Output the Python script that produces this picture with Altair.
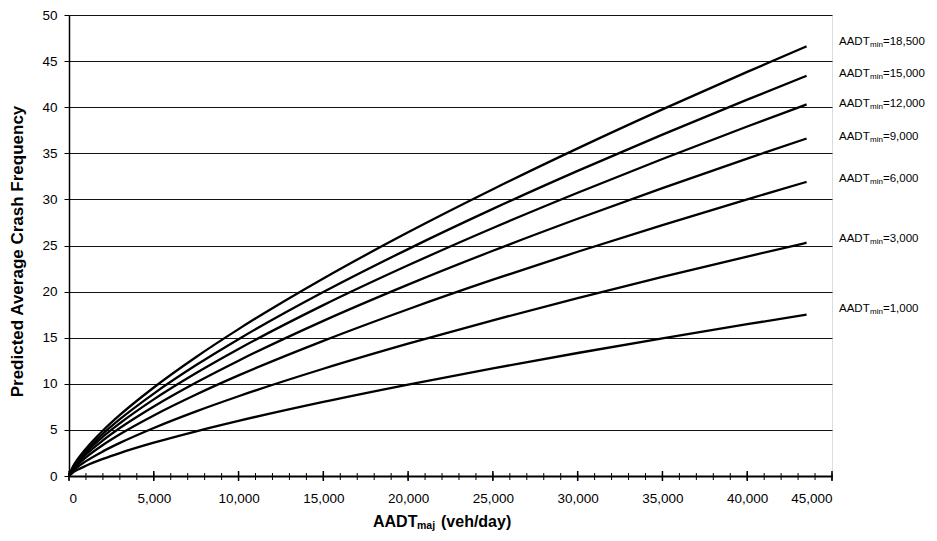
import altair as alt
import pandas as pd

# ---- data ----
aadt_maj = [0, 250, 500, 1000, 2000, 3000, 5000, 7500, 10000, 15000,
            20000, 25000, 30000, 35000, 40000, 43500]

crash_18500 = [0, 1.08, 1.79, 2.97, 4.92, 6.62, 9.60, 12.91, 15.93, 21.42,
               26.43, 31.10, 35.53, 39.76, 43.83, 46.6]
crash_15000 = [0, 1.00, 1.67, 2.76, 4.58, 6.16, 8.94, 12.03, 14.84, 19.95,
               24.61, 28.97, 33.09, 37.03, 40.82, 43.4]
crash_12000 = [0, 0.93, 1.55, 2.57, 4.26, 5.72, 8.31, 11.17, 13.78, 18.53,
               22.85, 26.90, 30.72, 34.38, 37.91, 40.3]
crash_9000 = [0, 0.85, 1.41, 2.33, 3.86, 5.20, 7.54, 10.14, 12.51, 16.83,
              20.76, 24.43, 27.90, 31.23, 34.43, 36.6]
crash_6000 = [0, 0.74, 1.22, 2.03, 3.37, 4.53, 6.57, 8.84, 10.91, 14.66,
              18.09, 21.29, 24.32, 27.22, 30.01, 31.9]
crash_3000 = [0, 0.58, 0.97, 1.61, 2.67, 3.59, 5.21, 7.01, 8.65, 11.63,
              14.35, 16.89, 19.29, 21.59, 23.80, 25.3]
crash_1000 = [0, 0.40, 0.67, 1.11, 1.85, 2.49, 3.61, 4.85, 5.98, 8.04,
              9.92, 11.68, 13.34, 14.93, 16.46, 17.5]

series_names = ["18,500", "15,000", "12,000", "9,000", "6,000", "3,000", "1,000"]
series_values = [crash_18500, crash_15000, crash_12000, crash_9000,
                 crash_6000, crash_3000, crash_1000]
label_y = [47.1, 43.6, 40.4, 36.8, 32.2, 25.7, 18.1]

x_ticks = list(range(0, 45001, 1000))
x_major = list(range(0, 45001, 5000))
y_ticks = list(range(0, 51, 5))

# ---- tables ----
rows = []
for name, vals in zip(series_names, series_values):
    for x, v in zip(aadt_maj, vals):
        rows.append({"maj": x, "crash": v, "series": name})
df = pd.DataFrame(rows)

labels_df = pd.DataFrame({
    "crash": label_y,
    "aadt": ["AADT"] * len(series_names),
    "sub": ["min"] * len(series_names),
    "rest": ["=" + s for s in series_names],
})
minor_df = pd.DataFrame({"maj": x_ticks})
major_df = pd.DataFrame({"maj": x_major})

W, H = 763, 461
FONT = "Liberation Sans"
xscale = alt.Scale(domain=[0, 45000], nice=False)
yscale = alt.Scale(domain=[0, 50], nice=False)

x_axis = alt.Axis(values=x_major, labelExpr="format(datum.value, ',')", title=None,
                  ticks=False, labelPadding=15, labelFontSize=13.5, labelColor="black",
                  domainColor="black", domainWidth=2, grid=False, labelFont=FONT)
y_axis = alt.Axis(values=y_ticks, title="Predicted Average Crash Frequency",
                  titleFontSize=17, titleFontWeight="bold", titleColor="black",
                  titleX=-52, titleY=236, titleAngle=270,
                  titleBaseline="middle", titleFont=FONT,
                  tickSize=5, tickColor="black", labelPadding=7,
                  labelFontSize=13.5, labelColor="black", labelFont=FONT,
                  grid=True, gridColor="#111", gridWidth=1,
                  domainColor="black", domainWidth=1.5)

lines = alt.Chart(df).mark_line(
    color="black", strokeWidth=2.3, interpolate="monotone"
).encode(
    x=alt.X("maj:Q", scale=xscale, axis=x_axis),
    y=alt.Y("crash:Q", scale=yscale, axis=y_axis),
    detail="series:N",
)

minor_ticks = alt.Chart(minor_df).mark_rule(color="black", strokeWidth=1).encode(
    x=alt.X("maj:Q", scale=xscale, axis=x_axis), y=alt.value(H - 3), y2=alt.value(H + 4)
)
major_ticks = alt.Chart(major_df).mark_rule(color="black", strokeWidth=1.5).encode(
    x=alt.X("maj:Q", scale=xscale, axis=x_axis), y=alt.value(H - 5), y2=alt.value(H + 5)
)

lab_aadt = alt.Chart(labels_df).mark_text(
    align="left", baseline="middle", fontSize=11.5, font=FONT, color="black"
).encode(x=alt.value(770), y=alt.Y("crash:Q", scale=yscale, axis=y_axis), text="aadt:N")
lab_sub = alt.Chart(labels_df).mark_text(
    align="left", baseline="middle", fontSize=8, font=FONT, color="black", dy=3
).encode(x=alt.value(801), y=alt.Y("crash:Q", scale=yscale, axis=y_axis), text="sub:N")
lab_rest = alt.Chart(labels_df).mark_text(
    align="left", baseline="middle", fontSize=11.5, font=FONT, color="black"
).encode(x=alt.value(814), y=alt.Y("crash:Q", scale=yscale, axis=y_axis), text="rest:N")

xt_df = pd.DataFrame({"a": ["AADT"], "b": ["maj"], "c": ["(veh/day)"]})
xt_a = alt.Chart(xt_df).mark_text(
    align="left", baseline="alphabetic", fontSize=16, fontWeight="bold",
    font=FONT, color="black"
).encode(x=alt.value(304), y=alt.value(H + 51), text="a:N")
xt_b = alt.Chart(xt_df).mark_text(
    align="left", baseline="alphabetic", fontSize=10.5, fontWeight="bold",
    font=FONT, color="black"
).encode(x=alt.value(348), y=alt.value(H + 53), text="b:N")
xt_c = alt.Chart(xt_df).mark_text(
    align="left", baseline="alphabetic", fontSize=16, fontWeight="bold",
    font=FONT, color="black"
).encode(x=alt.value(372), y=alt.value(H + 51), text="c:N")

chart = alt.layer(
    lines, minor_ticks, major_ticks, lab_aadt, lab_sub, lab_rest, xt_a, xt_b, xt_c
).properties(
    width=W, height=H,
    autosize=alt.AutoSizeParams(type="none"),
    padding={"left": 61, "top": 7, "right": 97, "bottom": 57},
).configure_view(
    stroke="#888", strokeWidth=1
).configure(font=FONT)

chart.save("out.html", embed_options={"renderer": "svg", "actions": False})
